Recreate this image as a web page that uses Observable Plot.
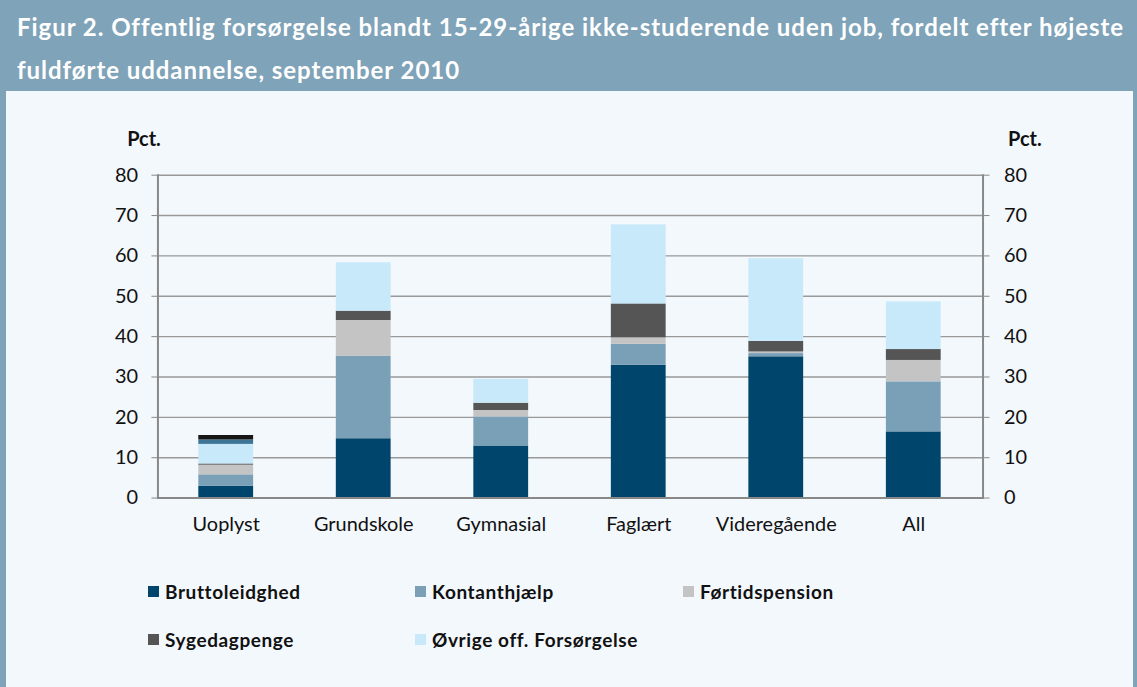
<!DOCTYPE html>
<html>
<head>
<meta charset="utf-8">
<script src="https://cdn.jsdelivr.net/npm/d3@7"></script>
<script src="https://cdn.jsdelivr.net/npm/@observablehq/plot@0.6"></script>
<style>
  html, body { margin: 0; padding: 0; background: #ffffff; }
  #frame { position: relative; width: 1137px; height: 687px; background: #f3f8fd; box-sizing: border-box; border-left: 6px solid #7fa3b8; border-right: 4px solid #7fa3b8; overflow: hidden; }
  #header { position: absolute; left: -6px; top: 0; width: 1137px; height: 91px; background: #7fa3b8; color: #ffffff; font-family: Lato, "Open Sans", sans-serif; font-weight: 700; font-size: 24px; letter-spacing: 0.95px; line-height: 43px; box-sizing: border-box; padding: 5px 0 0 17px; white-space: nowrap; }
  #chart { position: absolute; left: -6px; top: 91px; }
  #legend { position: absolute; left: -6px; top: 580px; width: 1137px; font-family: Lato, "Open Sans", sans-serif; font-weight: 700; font-size: 19px; letter-spacing: 0.6px; color: #111; }
  .item { position: absolute; display: flex; align-items: center; white-space: nowrap; }
  .sw { width: 11px; height: 11px; margin-right: 6px; }
</style>
</head>
<body>
<div id="frame">
  <div id="header">Figur 2. Offentlig forsørgelse blandt 15-29-årige ikke-studerende uden job, fordelt efter højeste<br>fuldførte uddannelse, september 2010</div>
  <div id="chart"></div>
  <div id="legend"></div>
</div>
<script>
const categories = ["Uoplyst", "Grundskole", "Gymnasial", "Faglært", "Videregående", "All"];
const seriesNames = ["Bruttoleidghed", "Kontanthjælp", "Førtidspension", "Sygedagpenge", "Øvrige off. Forsørgelse", "Andet A", "Andet B"];
const seriesColors = ["#00456b", "#7aa0b7", "#c4c4c4", "#555555", "#c8e9f9", "#3d7597", "#161616"];
const legendSeries = ["Bruttoleidghed", "Kontanthjælp", "Førtidspension", "Sygedagpenge", "Øvrige off. Forsørgelse"];
const bruttoleidghed = [2.9, 14.7, 12.9, 32.9, 35.0, 16.4];
const kontanthjaelp  = [2.85, 20.4, 7.2, 5.2, 0.8, 12.4];
const foertidspension = [2.4, 8.9, 1.6, 1.6, 0.4, 5.3];
const sygedagpenge   = [0.3, 2.3, 1.8, 8.4, 2.6, 2.7];
const oevrige        = [4.85, 12.0, 5.9, 19.6, 20.5, 11.8];
const andetA         = [1.1, 0, 0, 0, 0, 0];
const andetB         = [1.1, 0, 0, 0, 0, 0];
const yTicks = [0, 10, 20, 30, 40, 50, 60, 70, 80];

const valueArrays = [bruttoleidghed, kontanthjaelp, foertidspension, sygedagpenge, oevrige, andetA, andetB];
const rows = [];
seriesNames.forEach((s, si) => {
  categories.forEach((c, ci) => {
    rows.push({category: c, series: s, value: valueArrays[si][ci]});
  });
});

const font = "Lato, 'Open Sans', sans-serif";
const chart = Plot.plot({
  width: 1137,
  height: 470,
  marginLeft: 158,
  marginRight: 151,
  marginTop: 84,
  marginBottom: 62,
  style: {background: "transparent", fontFamily: font, fontSize: "20px", color: "#111"},
  x: {domain: categories, paddingInner: 0.6, paddingOuter: 0.3, label: null},
  y: {domain: [0, 80], ticks: yTicks, label: null},
  color: {domain: seriesNames, range: seriesColors},
  marks: [
    Plot.gridY(yTicks.filter(d => d > 0), {stroke: "#999", strokeOpacity: 1, strokeWidth: 1.4}),
    Plot.barY(rows, Plot.stackY({order: seriesNames}, {x: "category", y: "value", fill: "series", z: "series"})),
    Plot.ruleY([0], {stroke: "#888", strokeWidth: 2}),
    Plot.frame({anchor: "left", stroke: "#888", strokeWidth: 2}),
    Plot.frame({anchor: "right", stroke: "#888", strokeWidth: 2}),
    Plot.axisX({tickSize: 0, tickPadding: 19, fontSize: 20}),
    Plot.axisY({anchor: "left", ticks: yTicks, tickSize: 6, tickPadding: 14, stroke: "#888", fontSize: 20}),
    Plot.axisY({anchor: "right", ticks: yTicks, tickSize: 6, tickPadding: 15, stroke: "#888", fontSize: 20}),
    Plot.text(["Pct."], {frameAnchor: "top-left", dx: -14, dy: -44, textAnchor: "middle", fontWeight: "bold", fontSize: 20}),
    Plot.text(["Pct."], {frameAnchor: "top-right", dx: 42, dy: -44, textAnchor: "middle", fontWeight: "bold", fontSize: 20})
  ]
});
document.getElementById("chart").appendChild(chart);

const legend = document.getElementById("legend");
const positions = [[148, 0], [415, 0], [683, 0], [148, 48], [415, 48]];
legendSeries.forEach((s, i) => {
  const it = document.createElement("div");
  it.className = "item";
  it.style.left = positions[i][0] + "px";
  it.style.top = positions[i][1] + "px";
  const sw = document.createElement("span");
  sw.className = "sw";
  sw.style.background = seriesColors[seriesNames.indexOf(s)];
  const t = document.createElement("span");
  t.textContent = s;
  it.appendChild(sw); it.appendChild(t);
  legend.appendChild(it);
});
</script>
</body>
</html>
